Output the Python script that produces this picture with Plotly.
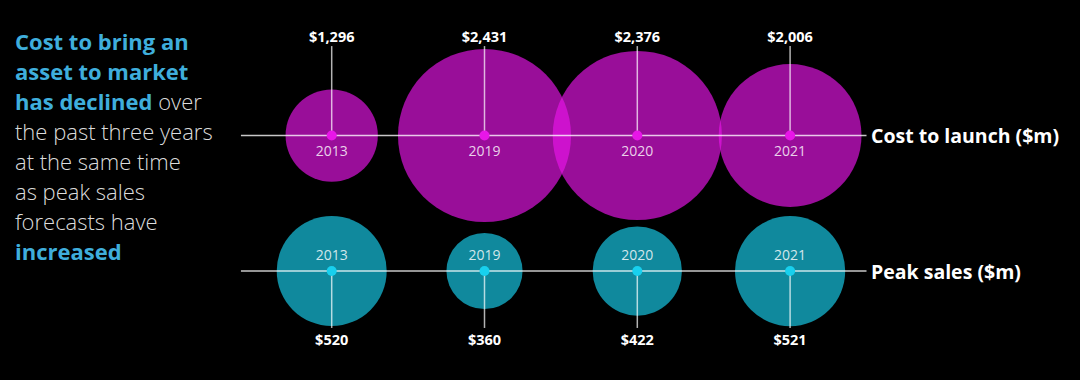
import plotly.graph_objects as go

years = ["2013", "2019", "2020", "2021"]
cost_to_launch = [1296, 2431, 2376, 2006]
peak_sales = [520, 360, 422, 521]
cost_labels = ["$1,296", "$2,431", "$2,376", "$2,006"]
sales_labels = ["$520", "$360", "$422", "$521"]
series_names = ["Cost to launch ($m)", "Peak sales ($m)"]

idx = list(range(len(years)))
Y_COST, Y_SALES = 1, 0
PURPLE = "rgb(232,22,232)"
TEAL = "rgb(24,208,238)"
FONT = "Open Sans"

cost_diam = [v * 0.0712 for v in cost_to_launch]
sales_diam = [v * 0.2115 for v in peak_sales]

fig = go.Figure()

# bubbles
fig.add_trace(go.Scatter(x=idx, y=[Y_COST] * 4, mode="markers",
                         marker=dict(size=cost_diam, sizemode="diameter", color=PURPLE,
                                     opacity=0.66, line=dict(width=0)),
                         hoverinfo="skip"))
fig.add_trace(go.Scatter(x=idx, y=[Y_SALES] * 4, mode="markers",
                         marker=dict(size=sales_diam, sizemode="diameter", color=TEAL,
                                     opacity=0.66, line=dict(width=0)),
                         hoverinfo="skip"))

# horizontal axis lines
for yv in (Y_COST, Y_SALES):
    fig.add_trace(go.Scatter(x=[-0.594, 3.50], y=[yv, yv], mode="lines",
                             line=dict(color="rgba(255,255,255,0.78)", width=1.5),
                             hoverinfo="skip"))

# vertical leader lines
vx, vy = [], []
for i in idx:
    vx += [i, i, None]
    vy += [Y_COST, 1.66, None]
    vx += [i, i, None]
    vy += [Y_SALES, -0.42, None]
fig.add_trace(go.Scatter(x=vx, y=vy, mode="lines",
                         line=dict(color="rgba(255,255,255,0.7)", width=1.5),
                         hoverinfo="skip"))

# center dots
fig.add_trace(go.Scatter(x=idx, y=[Y_COST] * 4, mode="markers",
                         marker=dict(size=10, color=PURPLE), hoverinfo="skip"))
fig.add_trace(go.Scatter(x=idx, y=[Y_SALES] * 4, mode="markers",
                         marker=dict(size=10, color=TEAL), hoverinfo="skip"))

# year labels
fig.add_trace(go.Scatter(x=idx, y=[0.875] * 4, mode="text", text=years,
                         textfont=dict(family=FONT, size=14, color="rgba(255,255,255,0.82)"),
                         hoverinfo="skip"))
fig.add_trace(go.Scatter(x=idx, y=[0.11] * 4, mode="text", text=years,
                         textfont=dict(family=FONT, size=14, color="rgba(255,255,255,0.82)"),
                         hoverinfo="skip"))

# value labels
fig.add_trace(go.Scatter(x=idx, y=[1.72] * 4, mode="text", text=cost_labels,
                         textfont=dict(family=FONT, size=14.5, color="white", weight="bold"),
                         hoverinfo="skip"))
fig.add_trace(go.Scatter(x=idx, y=[-0.517] * 4, mode="text", text=sales_labels,
                         textfont=dict(family=FONT, size=14.5, color="white", weight="bold"),
                         hoverinfo="skip"))

# series labels
for name, yv in zip(series_names, (Y_COST, Y_SALES)):
    fig.add_annotation(x=3.515, y=yv, xref="x", yref="y", text="<b>" + name + "</b>",
                       showarrow=False, xanchor="left", yanchor="middle",
                       font=dict(family=FONT, size=19.5, color="white"))

# left narrative text
BLUE = "#3FAEDC"
GREY = "#DCDCDC"
lines = [
    f"<span style='color:{BLUE}'><b>Cost to bring an</b></span>",
    f"<span style='color:{BLUE}'><b>asset to market</b></span>",
    f"<span style='color:{BLUE}'><b>has declined</b></span> over",
    "the past three years",
    "at the same time",
    "as peak sales",
    "forecasts have",
    f"<span style='color:{BLUE}'><b>increased</b></span>",
]
for k, t in enumerate(lines):
    ypix = 41 + 30 * k
    fig.add_annotation(x=13 / 1080, y=1 - ypix / 380, xref="paper", yref="paper",
                       text=t, showarrow=False, xanchor="left", yanchor="middle",
                       font=dict(family=FONT, size=22, color=GREY, weight=300))

fig.update_layout(
    width=1080, height=380,
    margin=dict(l=0, r=0, t=0, b=0),
    paper_bgcolor="black", plot_bgcolor="black",
    showlegend=False,
    xaxis=dict(range=[-331.7 / 152.8, (1080 - 331.7) / 152.8], visible=False, fixedrange=True),
    yaxis=dict(range=[-0.804, 2.0], visible=False, fixedrange=True),
)

fig.write_html(
    "out.html",
    config={"displayModeBar": False},
    post_script="document.body.style.margin='0';document.body.style.background='black';",
)
